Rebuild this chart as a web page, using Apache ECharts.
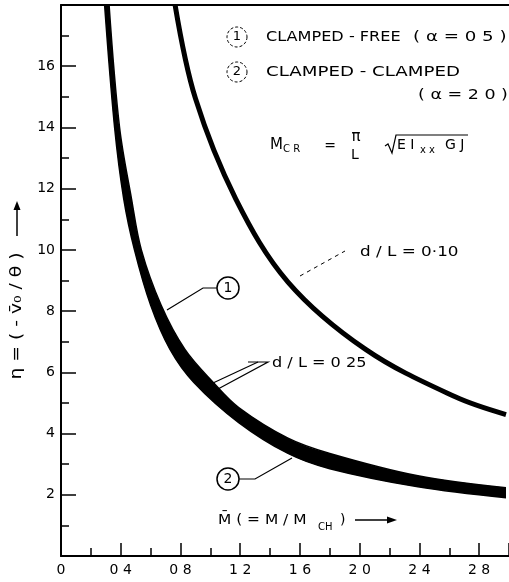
<!DOCTYPE html>
<html>
<head>
<meta charset="utf-8">
<script src="https://cdn.jsdelivr.net/npm/echarts/dist/echarts.min.js"></script>
<style>
  html, body { margin: 0; padding: 0; background: #fff; }
  #container { width: 509px; height: 582px; }
</style>
</head>
<body>
<div id="container"></div>
<script>
// d/L = 0.25 band : outer edge and inner edge (M, eta)
var bandOuterM   = [0.322, 0.392, 0.472, 0.538, 0.67, 0.83, 1.02, 1.19, 1.52, 1.80, 2.39, 2.98];
var bandOuterEta = [18.0, 14.0, 11.67, 10.0, 8.2, 6.75, 5.67, 4.85, 3.85, 3.35, 2.62, 2.23];
var bandInnerM   = [0.292, 0.359, 0.42, 0.492, 0.60, 0.73, 0.89, 1.19, 1.52, 1.80, 2.39, 2.98];
var bandInnerEta = [18.0, 14.0, 11.67, 10.0, 8.2, 6.75, 5.67, 4.36, 3.35, 2.85, 2.26, 1.90];
// d/L = 0.10 curve
var thinM   = [0.764, 0.90, 1.17, 1.52, 2.04, 2.64, 2.98];
var thinEta = [18.0, 14.95, 11.67, 8.95, 6.75, 5.2, 4.62];
// axes
var xTicks = [0, 0.4, 0.8, 1.2, 1.6, 2.0, 2.4, 2.8];
var yTicks = [2, 4, 6, 8, 10, 12, 14, 16];

var FONT = 'DejaVu Sans';

var zip = function (xs, ys) {
    var out = [];
    for (var i = 0; i < xs.length; i++) {
        out.push([xs[i], ys[i]]);
    }
    return out;
};

var txt = function (x, y, s, size, sx, align, rot) {
    return {
        type: 'text', x: x, y: y, z: 100, silent: true,
        scaleX: sx || 1, rotation: rot || 0,
        style: {
            text: s, fontSize: size, fontFamily: FONT, fill: '#000',
            align: align || 'left', verticalAlign: 'middle',
            textAlign: align || 'left', textVerticalAlign: 'middle'
        }
    };
};
var ln = function (pts, w, dash) {
    return {
        type: 'polyline', z: 100, silent: true,
        shape: { points: pts },
        style: { stroke: '#000', lineWidth: w || 1.2, fill: null, lineDash: dash || null }
    };
};
var circ = function (cx, cy, r, w, dash) {
    return {
        type: 'circle', z: 100, silent: true,
        shape: { cx: cx, cy: cy, r: r },
        style: { stroke: '#000', lineWidth: w, fill: '#fff', lineDash: dash || null }
    };
};
var tri = function (pts) {
    return { type: 'polygon', z: 100, silent: true, shape: { points: pts }, style: { fill: '#000' } };
};

var dom = document.getElementById('container');
var myChart = echarts.init(dom);

var option = {
    backgroundColor: '#fff',
    animation: false,
    grid: { left: 61, right: -4, top: 5, bottom: 26 },
    xAxis: [{
        type: 'value', min: 0, max: 3.0, interval: 0.4, z: 3,
        axisLine: { lineStyle: { color: '#000', width: 2 } },
        axisTick: { inside: true, length: 13, lineStyle: { color: '#000', width: 1.5 } },
        minorTick: { show: true, splitNumber: 2, length: 8, lineStyle: { color: '#000', width: 1.5 } },
        splitLine: { show: false },
        axisLabel: {
            margin: 7, color: '#000', fontSize: 14, fontFamily: FONT, showMaxLabel: false,
            formatter: function (v) {
                if (xTicks.indexOf(Math.round(v * 10) / 10) < 0) return '';
                return v === 0 ? '0' : v.toFixed(1).replace('.', ' ');
            }
        }
    }, {
        type: 'value', position: 'top', min: 0, max: 3.0, z: 3,
        axisLine: { lineStyle: { color: '#000', width: 2 } },
        axisTick: { show: false }, axisLabel: { show: false }, splitLine: { show: false }
    }],
    yAxis: {
        type: 'value', min: 0, max: 18, interval: 2, z: 3,
        axisLine: { show: true, lineStyle: { color: '#000', width: 2 } },
        axisTick: { show: true, inside: true, length: 15, lineStyle: { color: '#000', width: 1.5 } },
        minorTick: { show: true, splitNumber: 2, length: 8, lineStyle: { color: '#000', width: 1.5 } },
        splitLine: { show: false },
        axisLabel: {
            margin: 6, color: '#000', fontSize: 14, fontFamily: FONT,
            showMinLabel: false, showMaxLabel: false,
            formatter: function (v) { return yTicks.indexOf(v) < 0 ? '' : String(v); }
        }
    },
    series: [
        {
            // inner edge of band, black from the curve up to the top
            name: 'd/L=0.25 (2)', type: 'line', z: 2,
            data: zip(bandInnerM, bandInnerEta),
            smooth: 0.35, symbol: 'none',
            lineStyle: { color: '#000', width: 1.5 },
            areaStyle: { color: '#000', opacity: 1, origin: 'end' }
        },
        {
            // outer edge, white above it so only the band stays black
            name: 'd/L=0.25 (1)', type: 'line', z: 2,
            data: zip(bandOuterM, bandOuterEta),
            smooth: 0.35, symbol: 'none',
            lineStyle: { color: '#000', width: 1.5 },
            areaStyle: { color: '#fff', opacity: 1, origin: 'end' }
        },
        {
            name: 'd/L=0.10', type: 'line', z: 2,
            data: zip(thinM, thinEta),
            smooth: 0.35, symbol: 'none',
            lineStyle: { color: '#000', width: 5 }
        }
    ],
    graphic: [
        // legend at top right
        circ(237, 37, 10, 1, [3, 2]), txt(237, 37, '1', 13, 1, 'center'),
        txt(266, 37, 'CLAMPED - FREE', 14, 1.15),
        txt(413, 37, '( α = 0 5 )', 14, 1.3),
        circ(237, 72, 10, 1, [3, 2]), txt(237, 72, '2', 13, 1, 'center'),
        txt(266, 72, 'CLAMPED - CLAMPED', 14, 1.3),
        txt(418, 95, '( α = 2 0 )', 14, 1.25),

        // M_CR formula
        txt(270, 145, 'M', 15),
        txt(283, 149, 'C R', 10),
        txt(330, 146, '=', 14, 1, 'center'),
        txt(356, 137, 'π', 15, 1, 'center'),
        txt(355, 155, 'L', 14, 1, 'center'),
        ln([[385, 146], [388, 144], [392, 153], [396, 135], [468, 135]], 1.2),
        txt(397, 145, 'E I', 14),
        txt(420, 150, 'x x', 10),
        txt(445, 145, 'G J', 14),

        // curve labels
        txt(360, 252, 'd / L = 0·10', 14, 1.2),
        ln([[300, 276], [345, 251]], 1, [4, 4]),
        txt(272, 363, 'd / L = 0 25', 14, 1.15),
        ln([[248, 362], [268, 362], [218, 389]], 1.2),
        ln([[258, 362], [213, 383]], 1.2),
        ln([[217, 288], [203, 288], [167, 310]], 1.2),
        circ(228, 288, 11, 1.5), txt(228, 288, '1', 14, 1, 'center'),
        ln([[239, 479], [255, 479], [292, 458]], 1.2),
        circ(228, 479, 11, 1.5), txt(228, 479, '2', 14, 1, 'center'),

        // x axis title
        txt(218, 520, 'M̄ ( = M / M', 14, 1.1),
        txt(318, 527, 'CH', 10),
        txt(340, 520, ')', 14),
        ln([[355, 520], [390, 520]], 1.5),
        tri([[397, 520], [387, 516.5], [387, 523.5]]),

        // y axis title
        txt(17, 316, 'η = ( - v̄₀ / θ )', 15, 1.25, 'center', Math.PI / 2),
        ln([[17, 236], [17, 208]], 1.5),
        tri([[17, 201], [13.5, 210], [20.5, 210]])
    ]
};

if (option && typeof option === 'object') {
    myChart.setOption(option);
}
</script>
</body>
</html>
